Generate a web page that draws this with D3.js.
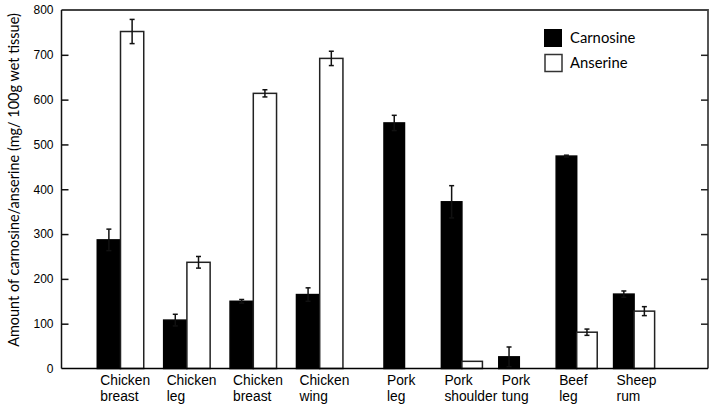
<!DOCTYPE html>
<html>
<head>
<meta charset="utf-8">
<script src="https://cdn.jsdelivr.net/npm/d3@7"></script>
<style>
  body { margin: 0; background: #fff; }
  svg { display: block; }
</style>
</head>
<body>
<div id="chart"></div>
<script>
// Tissue groups (first four are chicken cuts, the rest other meats)
const chickenCuts = ["Chicken|breast", "Chicken|leg", "Chicken|breast ", "Chicken|wing"];
const otherCuts = ["Pork|leg", "Pork|shoulder", "Pork|tung", "Beef|leg", "Sheep|rum"];
const categories = chickenCuts.concat(otherCuts);
const seriesNames = ["Carnosine", "Anserine"];

// mg / 100g wet tissue
const carnosine = [287, 108, 150, 165, 548, 372, 26, 474, 166];
const carnosineErr = [24, 13, 4, 15, 17, 36, 22, 2, 7];
const anserine = [752, 237, 614, 692, 0, 16, 0, 81, 128];
const anserineErr = [27, 13, 8, 16, 0, 0, 0, 7, 10];

const yTicks = [0, 100, 200, 300, 400, 500, 600, 700, 800];

const W = 715, H = 408;
const plot = { left: 61.5, right: 708, top: 10, bottom: 368.5 };

const svg = d3.select("#chart").append("svg")
  .attr("width", W)
  .attr("height", H);

const y = d3.scaleLinear().domain([0, 800]).range([plot.bottom, plot.top]);

// two band scales: chicken groups are spaced wider than the others
const xChicken = d3.scaleBand().domain(chickenCuts)
  .range([87.3, 352.9]).paddingInner(0.3).paddingOuter(0.15);
const xOther = d3.scaleBand().domain(otherCuts)
  .range([375.8, 662.8]).paddingInner(0.285).paddingOuter(0.1425);
const xGroup = c => chickenCuts.includes(c) ? xChicken(c) : xOther(c);
const bandOf = c => chickenCuts.includes(c) ? xChicken.bandwidth() : xOther.bandwidth();
const xSub = d3.scaleBand().domain(seriesNames).range([0, 1]);

const rows = categories.map((c, i) => ({
  cat: c,
  vals: [
    { key: "Carnosine", v: carnosine[i], e: carnosineErr[i] },
    { key: "Anserine", v: anserine[i], e: anserineErr[i] }
  ]
}));

// bars
const g = svg.selectAll(".grp").data(rows).enter().append("g")
  .attr("class", "grp");

g.selectAll("rect").data(d => d.vals.map(v => Object.assign({ cat: d.cat }, v)))
  .enter().filter(d => d.v > 0)
  .append("rect")
  .attr("x", d => xGroup(d.cat) + xSub(d.key) * bandOf(d.cat))
  .attr("width", d => xSub.bandwidth() * bandOf(d.cat))
  .attr("y", d => y(d.v))
  .attr("height", d => y(0) - y(d.v))
  .attr("fill", d => d.key === "Carnosine" ? "#000" : "#fff")
  .attr("stroke", d => d.key === "Carnosine" ? "#000" : "#222")
  .attr("stroke-width", 1.5);

// error bars
const errs = [];
rows.forEach(r => r.vals.forEach(v => {
  if (v.e > 0) errs.push(Object.assign({ cat: r.cat }, v));
}));
const cx = d => xGroup(d.cat) + (xSub(d.key) + xSub.bandwidth() / 2) * bandOf(d.cat);

const eb = svg.selectAll(".err").data(errs).enter().append("g").attr("class", "err")
  .attr("stroke", "#111").attr("stroke-width", 1.5);
eb.append("line")
  .attr("x1", cx).attr("x2", cx)
  .attr("y1", d => y(d.v + d.e)).attr("y2", d => y(Math.max(0, d.v - d.e)));
eb.append("line")
  .attr("x1", d => cx(d) - 2.5).attr("x2", d => cx(d) + 2.5)
  .attr("y1", d => y(d.v + d.e)).attr("y2", d => y(d.v + d.e));
eb.append("line")
  .attr("x1", d => cx(d) - 2.5).attr("x2", d => cx(d) + 2.5)
  .attr("y1", d => y(d.v - d.e)).attr("y2", d => y(d.v - d.e));

// frame: top and right in dark grey
svg.append("path")
  .attr("d", `M${plot.left},${plot.top}H${plot.right}V${plot.bottom}`)
  .attr("fill", "none").attr("stroke", "#444").attr("stroke-width", 1.8);

// right axis, inner ticks
const yRight = d3.axisRight(y).tickValues(yTicks.slice(1, -1)).tickSize(-7).tickFormat("");
svg.append("g")
  .attr("transform", `translate(${plot.right},0)`)
  .call(yRight)
  .call(s => s.select(".domain").remove())
  .call(s => s.selectAll("line").attr("stroke", "#222").attr("stroke-width", 1.5));

// left axis
const yLeft = d3.axisLeft(y).tickValues(yTicks).tickSize(-7).tickPadding(8);
svg.append("g")
  .attr("transform", `translate(${plot.left},0)`)
  .call(yLeft)
  .call(s => s.select(".domain").attr("d", `M0,${plot.top}V${plot.bottom}`)
    .attr("stroke", "#111").attr("stroke-width", 1.5))
  .call(s => s.selectAll(".tick line").attr("stroke", "#111").attr("stroke-width", 1.5))
  .call(s => s.selectAll(".tick").filter(d => d === 0 || d === 800).select("line").remove())
  .call(s => s.selectAll("text")
    .attr("font-family", "'Liberation Sans', Arial, sans-serif")
    .attr("font-size", 12).attr("fill", "#000"));

// bottom axis line
svg.append("line")
  .attr("x1", plot.left).attr("x2", plot.right)
  .attr("y1", y(0)).attr("y2", y(0))
  .attr("stroke", "#000").attr("stroke-width", 1.5);

// category labels, left aligned at group start
const lab = svg.selectAll(".xlab").data(categories).enter().append("text")
  .attr("class", "xlab")
  .attr("font-family", "'Liberation Sans', Arial, sans-serif")
  .attr("font-size", 13.8)
  .attr("fill", "#000");
lab.each(function (c) {
  const parts = c.trim().split("|");
  const t = d3.select(this);
  parts.forEach((p, i) => {
    t.append("tspan")
      .attr("x", xGroup(c) + 3)
      .attr("y", 385 + i * 15.5)
      .text(p);
  });
});

// y-axis title
const title = svg.append("text")
  .attr("transform", `translate(19,${(13 + 347) / 2}) rotate(-90)`)
  .attr("text-anchor", "middle")
  .attr("font-family", "Lato, 'Open Sans', sans-serif")
  .attr("font-size", 14.5)
  .attr("fill", "#000")
  .text("Amount of carnosine/anserine (mg/ 100g wet tissue)");
const tl = title.node().getComputedTextLength();
title.attr("font-size", 14.5 * 334 / tl);

// legend
const legend = svg.append("g").attr("transform", "translate(544,29)");
seriesNames.forEach((s, i) => {
  const row = legend.append("g").attr("transform", `translate(0,${i * 25})`);
  row.append("rect")
    .attr("x", i ? 1 : 0).attr("y", i ? 0.5 : 0)
    .attr("width", i ? 17 : 18).attr("height", i ? 17 : 18)
    .attr("fill", i ? "#fff" : "#000")
    .attr("stroke", i ? "#333" : "none")
    .attr("stroke-width", 1.5);
  row.append("text")
    .attr("x", 26).attr("y", 14)
    .attr("font-family", "Lato, 'Open Sans', sans-serif")
    .attr("font-size", 14.8)
    .attr("fill", "#000")
    .text(s);
});
</script>
</body>
</html>
